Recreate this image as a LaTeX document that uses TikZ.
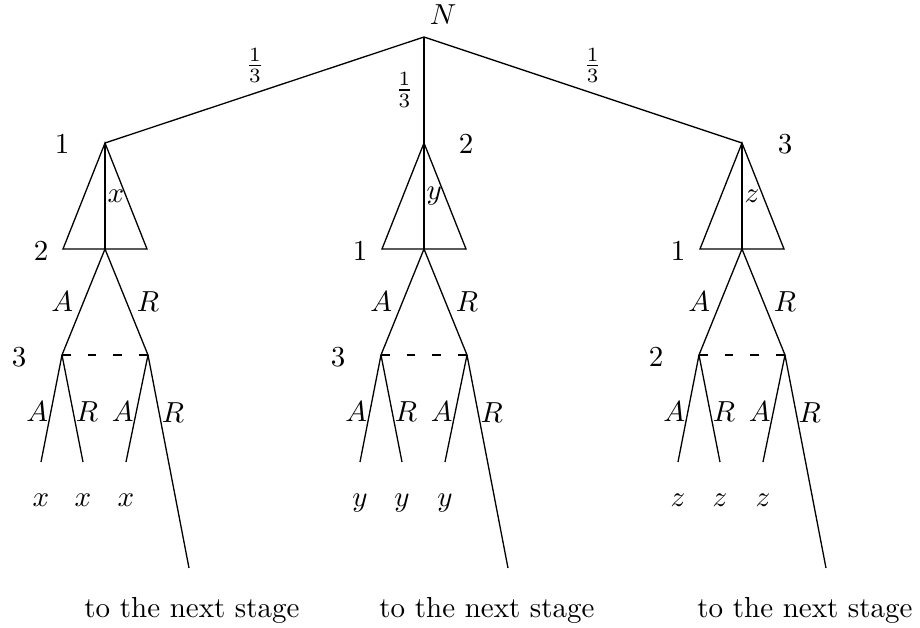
\documentclass[tikz,border=0pt]{standalone}
\usetikzlibrary{calc}

\begin{document}
\begin{tikzpicture}[x=0.345pt,y=-0.345pt,line width=0.45pt,
    tight/.style={inner sep=0.7pt},
    infoset/.style={dash pattern=on 3pt off 5.85pt}]
  \useasboundingbox (0,0) rectangle (920,628);
  \coordinate (root) at (424,37);
  \node (nat) at (443,15) {$N$};
  \foreach \ax/\pa/\pb/\pc/\v/\o/\fp/\fa/\tx [count=\i] in
      {105/1/2/3/x/-43/.53/south/192, 424/2/1/3/y/42/.5/east/487, 742/3/1/2/z/43/.53/south/805}{
    % points of the subtree
    \coordinate (t\i) at (\ax,143);
    \coordinate (b\i) at (\ax,249);
    \coordinate (bl\i) at (\ax-42,249);
    \coordinate (br\i) at (\ax+42,249);
    \coordinate (il\i) at (\ax-43,355);
    \coordinate (ir\i) at (\ax+43,355);
    \coordinate (ila\i) at (\ax-64,462);
    \coordinate (ilr\i) at (\ax-22,462);
    \coordinate (ira\i) at (\ax+21,462);
    \coordinate (irr\i) at (\ax+84,568);
    % players
    \node (pa\i) at (\ax+\o,144) {$\pa$};
    \node (pb\i) at (\ax-64,251) {$\pb$};
    \node (pc\i) at (\ax-86,357) {$\pc$};
    % moves
    \draw (root) -- node[pos=\fp,anchor=\fa] (fr\i) {$\frac13$} (t\i);
    \draw (t\i) -- (bl\i) -- (br\i) -- cycle;
    \draw (t\i) -- node[tight,right] (v\i) {$\v$} (b\i);
    \draw (b\i) -- node[left] (mA\i) {$A$} (il\i);
    \draw (b\i) -- node[right] (mR\i) {$R$} (ir\i);
    \draw[infoset] (il\i) -- (ir\i);
    \draw (il\i) -- node[tight,left,pos=.53] (lA\i) {$A$} (ila\i);
    \draw (il\i) -- node[tight,right,pos=.53] (lR\i) {$R$} (ilr\i);
    \draw (ir\i) -- node[tight,left,pos=.53] (rA\i) {$A$} (ira\i);
    \draw (ir\i) -- node[tight,right,pos=.27] (rR\i) {$R$} (irr\i);
    \foreach \c in {ila,ilr,ira} \node[anchor=base] (\c x\i) at ($(\c\i)+(0,45)$) {$\v$};
    \node[anchor=base] (next\i) at (\tx,618) {to the next stage};
  }
\end{tikzpicture}
\end{document}
